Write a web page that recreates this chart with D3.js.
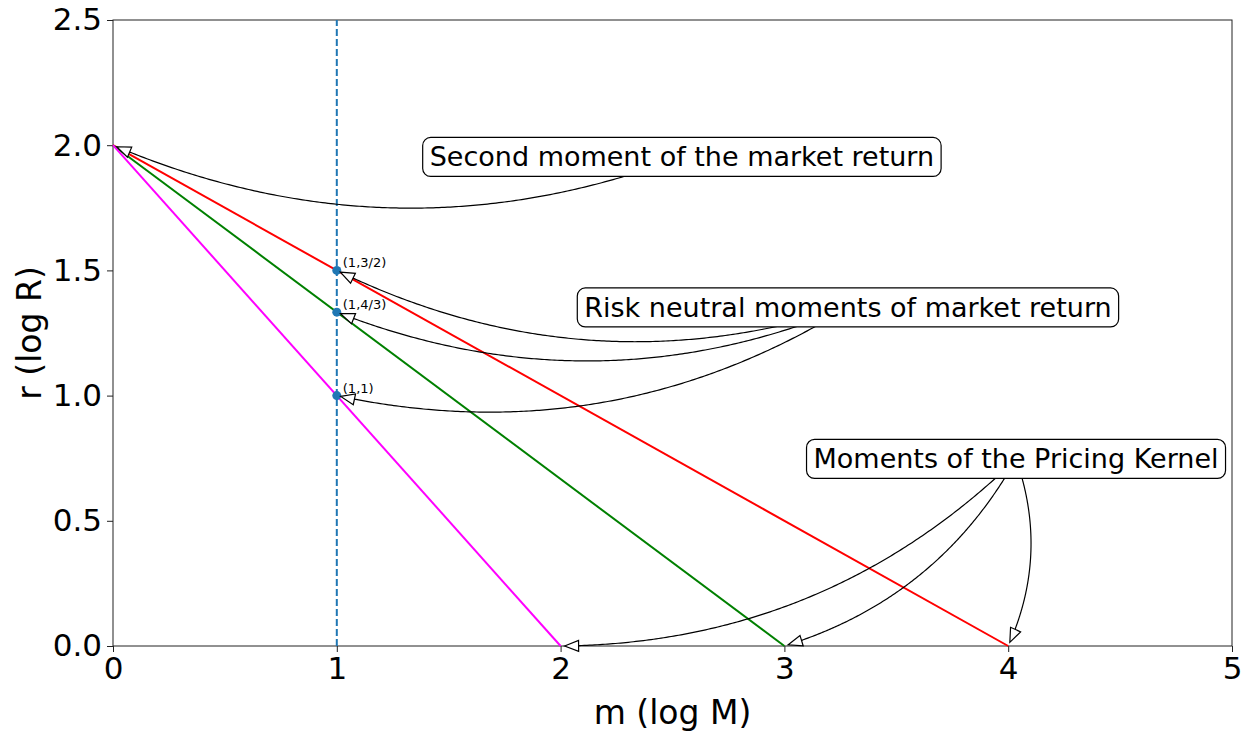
<!DOCTYPE html>
<html>
<head>
<meta charset="utf-8">
<script src="https://cdn.jsdelivr.net/npm/d3@7"></script>
<style>
  body { margin: 0; background: white; }
  svg { display: block; font-family: "DejaVu Sans", sans-serif; }
</style>
</head>
<body>
<svg id="chart" width="1253" height="732"></svg>
<script>
// data
const xTicks = [0, 1, 2, 3, 4, 5];
const yTicks = [0, 0.5, 1, 1.5, 2, 2.5];
const rIntercept = 2;
const mIntercepts = [4, 3, 2];
const lineColors = ["red", "green", "magenta"];
const markX = 1;
const markY = [3 / 2, 4 / 3, 1];
const markLabels = ["(1,3/2)", "(1,4/3)", "(1,1)"];

const noteTexts = [
    "Second moment of the market return",
    "Risk neutral moments of market return",
    "Moments of the Pricing Kernel"
];
const notePos = [[2.542, 1.953], [3.284, 1.352], [4.035, 0.747]];
const noteTargets = [
    [[0, 2]],
    [[1, 3 / 2], [1, 4 / 3], [1, 1]],
    [[2, 0], [3, 0], [4, 0]]
];

const width = 1253, height = 732;
const margin = { top: 20, right: 21, bottom: 86, left: 113 };

const svg = d3.select("#chart");

const x = d3.scaleLinear().domain([0, 5]).range([margin.left, width - margin.right]);
const y = d3.scaleLinear().domain([0, 2.5]).range([height - margin.bottom, margin.top]);

// axes
const xAxis = d3.axisBottom(x).tickValues(xTicks).tickFormat(d3.format("d")).tickSize(6).tickPadding(5);
const yAxis = d3.axisLeft(y).tickValues(yTicks).tickFormat(d3.format(".1f")).tickSize(6).tickPadding(5);

const gx = svg.append("g").attr("transform", `translate(0,${y(0)})`).call(xAxis);
const gy = svg.append("g").attr("transform", `translate(${x(0)},0)`).call(yAxis);
[gx, gy].forEach(g => {
    g.select(".domain").remove();
    g.selectAll(".tick line").attr("stroke", "#222").attr("stroke-width", 1);
    g.selectAll(".tick text").attr("font-size", 31).attr("fill", "#000")
        .attr("font-family", "DejaVu Sans, sans-serif");
});

// frame
svg.append("rect")
    .attr("x", x(0)).attr("y", y(2.5))
    .attr("width", x(5) - x(0)).attr("height", y(0) - y(2.5))
    .attr("fill", "none").attr("stroke", "#222").attr("stroke-width", 1);

svg.append("text")
    .attr("x", (x(0) + x(5)) / 2).attr("y", 714)
    .attr("text-anchor", "middle").attr("dominant-baseline", "middle")
    .attr("font-size", 33).text("m (log M)");

svg.append("text")
    .attr("transform", `translate(31,${(y(0) + y(2.5)) / 2}) rotate(-90)`)
    .attr("text-anchor", "middle").attr("dominant-baseline", "middle")
    .attr("font-size", 33).text("r (log R)");

// the three lines
const line = d3.line().x(d => x(d[0])).y(d => y(d[1]));
mIntercepts.forEach((m, i) => {
    svg.append("path")
        .attr("d", line([[0, rIntercept], [m, 0]]))
        .attr("fill", "none").attr("stroke", lineColors[i]).attr("stroke-width", 2);
});

// dashed line at m = 1
svg.append("path")
    .attr("d", line([[markX, 0], [markX, 2.5]]))
    .attr("fill", "none").attr("stroke", "#1f77b4").attr("stroke-width", 2)
    .attr("stroke-dasharray", "7,3");

// points and their labels
svg.selectAll("circle.mark").data(markY).join("circle")
    .attr("class", "mark")
    .attr("cx", x(markX)).attr("cy", d => y(d)).attr("r", 4.5)
    .attr("fill", "#1f77b4");

svg.selectAll("text.mark").data(markY).join("text")
    .attr("class", "mark")
    .attr("x", x(markX) + 6).attr("y", d => y(d) - 3)
    .attr("font-size", 13).text((d, i) => markLabels[i]);

// arc3 style connector, like matplotlib annotate
const rad = 0.2, shrink = 4, headLen = 14, headHalf = 5.5;
const arrows = svg.append("g");
const boxes = svg.append("g");

const draw_arrow = function (from, to) {
    const p0 = [x(from[0]), y(from[1])];
    const p2 = [x(to[0]), y(to[1])];
    const mx = (p0[0] + p2[0]) / 2, my = (p0[1] + p2[1]) / 2;
    const dx = p2[0] - p0[0], dy = p2[1] - p0[1];
    const c = [mx + rad * dy, my - rad * dx];
    const bez = t => [
        (1 - t) * (1 - t) * p0[0] + 2 * t * (1 - t) * c[0] + t * t * p2[0],
        (1 - t) * (1 - t) * p0[1] + 2 * t * (1 - t) * c[1] + t * t * p2[1]
    ];
    let tx = p2[0] - c[0], ty = p2[1] - c[1];
    const tl = Math.hypot(tx, ty);
    tx /= tl; ty /= tl;
    const tip = [p2[0] - tx * shrink, p2[1] - ty * shrink];
    const base = [tip[0] - tx * headLen, tip[1] - ty * headLen];
    const cut = shrink + headLen;
    const pts = [];
    for (let i = 0; i <= 200; i++) {
        const p = bez(i / 200);
        if (Math.hypot(p[0] - p2[0], p[1] - p2[1]) < cut) break;
        pts.push(p);
    }
    pts.push(base);
    arrows.append("path")
        .attr("d", d3.line()(pts))
        .attr("fill", "none").attr("stroke", "#000").attr("stroke-width", 1.2);
    arrows.append("path")
        .attr("d", d3.line()([
            tip,
            [base[0] - ty * headHalf, base[1] + tx * headHalf],
            [base[0] + ty * headHalf, base[1] - tx * headHalf]
        ]) + "Z")
        .attr("fill", "white").attr("stroke", "#000").attr("stroke-width", 1.2);
}

noteTexts.forEach((t, i) => {
    noteTargets[i].forEach(tg => draw_arrow(notePos[i], tg));
    const g = boxes.append("g");
    const rect = g.append("rect");
    const txt = g.append("text")
        .attr("x", x(notePos[i][0])).attr("y", y(notePos[i][1]))
        .attr("text-anchor", "middle").attr("dominant-baseline", "central")
        .attr("font-size", 27).text(t);
    const bb = txt.node().getBBox();
    rect.attr("x", bb.x - 7).attr("y", bb.y - 4)
        .attr("width", bb.width + 14).attr("height", bb.height + 8)
        .attr("rx", 8).attr("ry", 8)
        .attr("fill", "white").attr("stroke", "#000").attr("stroke-width", 1.2);
});
</script>
</body>
</html>
